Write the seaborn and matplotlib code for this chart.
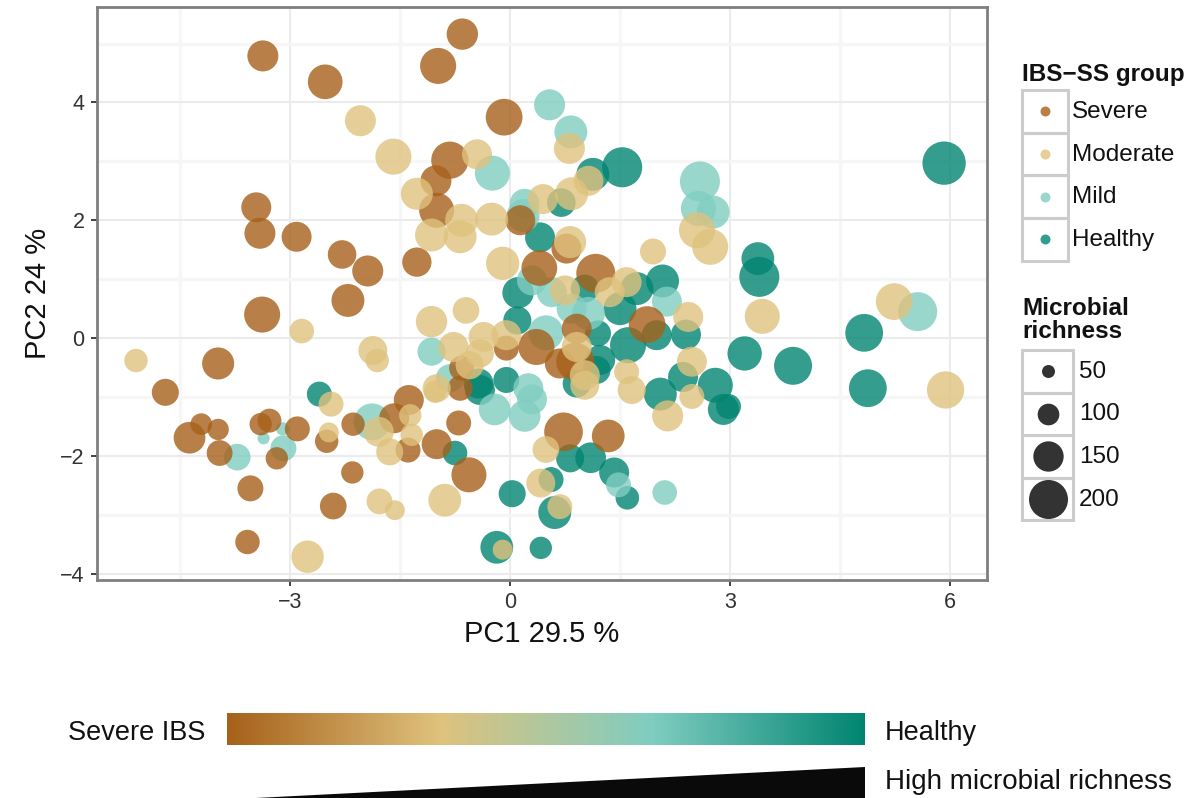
import numpy as np
import pandas as pd
import matplotlib
matplotlib.use("Agg")
import matplotlib.pyplot as plt
from matplotlib.colors import LinearSegmentedColormap
from matplotlib.patches import Rectangle, Polygon
import seaborn as sns

# ---------------------------------------------------------------- data
groups = ["Severe", "Moderate", "Mild", "Healthy"]
group_colors = ["#A6611A", "#DFC27D", "#80CDC1", "#018571"]
richness_breaks = [50, 100, 150, 200]
x_ticks = [-3, 0, 3, 6]
y_ticks = [-4, -2, 0, 2, 4]

severe_pc1 = [-3.37, -2.52, -0.65, -0.98, -0.08, -0.82, -1.01, -1.00, -3.46, -3.41,
              -2.91, -2.29, -1.94, -2.21, -3.38, -3.98, -4.70, -1.27, 0.14, 0.77,
              0.40, 1.17, 1.87, 0.36, 0.91, 0.89, 0.68, -0.05, -0.66, -1.38,
              -1.58, -1.39, -0.70, -1.00, -0.56, 0.73, 1.34, -4.21, -4.37, -3.98,
              -3.96, -3.40, -3.28, -3.18, -2.90, -2.50, -3.54, -2.15, -2.41, -3.58,
              -2.14, -0.68]
severe_pc2 = [4.79, 4.35, 5.16, 4.62, 3.75, 3.02, 2.67, 2.17, 2.22, 1.78,
              1.72, 1.42, 1.14, 0.64, 0.40, -0.43, -0.92, 1.29, 2.00, 1.52,
              1.19, 1.10, 0.23, -0.15, 0.16, -0.40, -0.43, -0.17, -0.51, -1.05,
              -1.36, -1.90, -1.44, -1.80, -2.32, -1.59, -1.66, -1.46, -1.69, -1.55,
              -1.95, -1.46, -1.40, -2.04, -1.54, -1.75, -2.55, -2.28, -2.85, -3.46,
              -1.46, -0.85]
severe_rich = [154, 175, 156, 183, 187, 190, 154, 177, 148, 154,
               148, 140, 154, 165, 183, 160, 131, 144, 148, 148,
               181, 200, 187, 183, 148, 194, 148, 119, 119, 148,
               148, 119, 119, 148, 177, 198, 164, 100, 158, 98,
               124, 104, 113, 104, 119, 110, 125, 104, 129, 116,
               110, 120]

moderate_pc1 = [-2.04, -1.59, -0.45, 0.81, -1.27, 1.07, 0.84, 0.45, -1.07, -0.68,
                -0.66, -0.25, -0.10, 0.82, 0.75, 1.95, 1.59, 1.36, 2.73, 2.55,
                2.43, 3.44, 5.24, 2.48, 5.94, 2.48, 2.15, 1.66, 1.02, 1.59,
                0.91, 1.02, -2.84, -5.10, -1.87, -1.81, -1.07, -0.60, -0.77, -0.36,
                -0.05, -0.41, -0.55, -1.00, -2.44, -2.47, -1.79, -1.64, -1.78, -1.57,
                -2.76, -1.02, -1.36, -1.34, -0.89, 0.42, 0.68, -0.10, 0.49]
moderate_pc2 = [3.69, 3.08, 3.12, 3.22, 2.45, 2.67, 2.45, 2.36, 1.75, 1.72,
                2.00, 2.02, 1.27, 1.63, 0.81, 1.47, 0.95, 0.78, 1.55, 1.83,
                0.36, 0.37, 0.62, -0.40, -0.88, -0.99, -1.32, -0.88, -0.80, -0.57,
                -0.15, -0.63, 0.12, -0.38, -0.21, -0.38, 0.28, 0.47, -0.15, 0.02,
                0.05, -0.26, -0.46, -0.85, -1.12, -1.60, -1.59, -1.93, -2.77, -2.92,
                -3.71, -0.91, -1.31, -1.64, -2.75, -2.46, -2.86, -3.59, -1.89]
moderate_rich = [154, 183, 148, 154, 160, 148, 165, 148, 165, 165,
                 165, 165, 167, 160, 148, 125, 148, 148, 183, 183,
                 148, 177, 187, 148, 190, 119, 154, 137, 142, 119,
                 148, 148, 117, 110, 142, 110, 156, 129, 148, 148,
                 148, 137, 137, 137, 119, 90, 148, 131, 124, 90,
                 162, 104, 104, 104, 164, 142, 119, 90, 129]

mild_pc1 = [0.54, 0.83, -0.24, 0.20, 0.18, 2.59, 2.77, 2.57, 5.56, 0.30,
            0.57, 1.07, 0.84, 0.49, 2.14, -1.07, -0.82, 0.25, -0.21, 0.20,
            0.30, 1.48, 2.11, -3.72, -3.36, -3.10, -3.09, -1.88]
mild_pc2 = [3.96, 3.50, 2.80, 2.28, 2.08, 2.66, 2.14, 2.20, 0.45, 0.98,
            0.78, 0.42, 0.50, 0.09, 0.62, -0.23, -0.68, -0.85, -1.21, -1.32,
            -1.04, -2.49, -2.62, -2.02, -1.70, -1.54, -1.87, -1.42]
mild_rich = [154, 165, 177, 148, 165, 206, 165, 177, 200, 148,
             148, 165, 148, 177, 148, 137, 137, 148, 158, 158,
             148, 119, 117, 129, 45, 52, 125, 187]

healthy_pc1 = [5.92, 1.13, 1.53, 0.70, 0.41, 3.38, 3.40, 0.11, 1.02, 1.73,
               2.08, 1.50, 1.20, 0.10, 1.61, 2.00, 2.40, 3.20, 3.86, 4.83,
               4.88, 2.80, 2.91, 2.98, 2.36, 2.05, 1.23, 1.18, 0.91, -0.43,
               -0.05, -0.41, -2.60, -0.75, 0.82, 1.10, 1.42, 1.60, 0.03, 0.56,
               0.61, -0.18, 0.42]
healthy_pc2 = [2.97, 2.78, 2.90, 2.30, 1.71, 1.35, 1.04, 0.77, 0.84, 0.84,
               0.97, 0.50, 0.08, 0.30, -0.12, 0.05, 0.06, -0.26, -0.47, 0.09,
               -0.85, -0.80, -1.21, -1.16, -0.66, -0.95, -0.37, -0.54, -0.77, -0.77,
               -0.71, -0.88, -0.95, -1.95, -2.04, -2.03, -2.28, -2.71, -2.64, -2.40,
               -2.96, -3.55, -3.56]
healthy_rich = [225, 165, 206, 140, 148, 164, 206, 156, 137, 165,
                165, 165, 125, 137, 183, 148, 148, 173, 194, 193,
                193, 177, 154, 119, 148, 165, 148, 137, 137, 148,
                125, 148, 119, 117, 137, 152, 148, 111, 131, 119,
                165, 164, 104]

# ---------------------------------------------------------------- frame
frames = []
for name, pc1, pc2, rich in [
    ("Healthy", healthy_pc1, healthy_pc2, healthy_rich),
    ("Mild", mild_pc1, mild_pc2, mild_rich),
    ("Severe", severe_pc1, severe_pc2, severe_rich),
    ("Moderate", moderate_pc1, moderate_pc2, moderate_rich),
]:
    frames.append(pd.DataFrame({"PC1": pc1, "PC2": pc2, "richness": rich, "group": name}))
df = pd.concat(frames, ignore_index=True)

DPI = 100
W, H = 1197, 798


def marker_area(v):
    """Marker area (pt^2) with the diameter growing linearly with richness."""
    d_px = 13 + (v - 50) * 26.0 / 150.0
    return (d_px * 72.0 / DPI) ** 2


size_lookup = {v: marker_area(v) for v in sorted(df["richness"].unique())}
palette = dict(zip(groups, group_colors))

sns.set_style("white")
plt.rcParams["font.family"] = ["Liberation Sans", "DejaVu Sans"]
plt.rcParams["axes.unicode_minus"] = True

fig = plt.figure(figsize=(W / DPI, H / DPI), dpi=DPI)
ax = fig.add_axes([97 / W, 1 - 580 / H, 890 / W, 573 / H])

sns.scatterplot(data=df, x="PC1", y="PC2", hue="group", hue_order=groups,
                palette=palette, size="richness", sizes=size_lookup,
                alpha=0.8, linewidth=0, legend=False, ax=ax, zorder=3)

# axes range in data units
ax.set_xlim(-5.632, 6.505)
ax.set_ylim(-4.105, 5.62)
ax.set_xticks(x_ticks)
ax.set_yticks(y_ticks)
ax.set_xticks([-4.5, -1.5, 1.5, 4.5], minor=True)
ax.set_yticks([-3, -1, 1, 3, 5], minor=True)
ax.grid(True, which="major", color="#EBEBEB", lw=1.5, zorder=0)
ax.grid(True, which="minor", color="#F6F6F6", lw=2.4, zorder=0)
ax.set_axisbelow(True)
for sp in ax.spines.values():
    sp.set_color("#7F7F7F")
    sp.set_linewidth(2.0)
ax.tick_params(axis="both", which="major", direction="out", length=4, width=1.3,
               color="#333333", labelsize=15.5, labelcolor="#333333", pad=5,
               bottom=True, left=True)
ax.tick_params(axis="both", which="minor", length=0)
ax.set_xlabel("PC1 29.5 %", fontsize=21, color="#111111", labelpad=5)
ax.set_ylabel("PC2 24 %", fontsize=21, color="#111111", labelpad=6)

# ---------------------------------------------------------------- overlay (pixel coords)
ov = fig.add_axes([0, 0, 1, 1], zorder=5)
ov.set_xlim(0, W)
ov.set_ylim(H, 0)
ov.axis("off")
ov.patch.set_alpha(0)

key_edge = "#CCCCCC"

# colour legend
ov.text(1022, 74, "IBS\u2212SS group", fontsize=17.5, fontweight="bold",
        ha="left", va="center", color="#111111")
key_tops = [90, 132.7, 175.3, 218]
for top, name, col in zip(key_tops, groups, group_colors):
    ov.add_patch(Rectangle((1022, top), 46, 42.6, fill=False, edgecolor=key_edge, lw=2.2))
    ov.scatter([1045], [top + 21.3], s=(10 * 72 / DPI) ** 2, color=col, alpha=0.8,
               linewidths=0)
    ov.text(1072, top + 22, name, fontsize=17.5, ha="left", va="center", color="#111111")

# size legend
ov.text(1022, 320, "Microbial\nrichness", fontsize=17.5, fontweight="bold",
        ha="left", va="center", color="#111111", linespacing=1.0)
size_tops = [350, 392.5, 435, 477.5]
for top, v in zip(size_tops, richness_breaks):
    ov.add_patch(Rectangle((1022, top), 51, 42.5, fill=False, edgecolor=key_edge, lw=2.2))
    ov.scatter([1047.5], [top + 21.2], s=marker_area(v), color="#333333", linewidths=0)
    ov.text(1079, top + 22, str(v), fontsize=17.5, ha="left", va="center", color="#111111")

# severity gradient bar
cmap = LinearSegmentedColormap.from_list("severity", group_colors)
grad = np.linspace(0, 1, 512)[None, :]
ov.imshow(grad, extent=[227, 865, 745, 713], aspect="auto", cmap=cmap, zorder=2)
ov.text(205, 733, "Severe IBS", fontsize=19.5, ha="right", va="center", color="#111111")
ov.text(885, 733, "Healthy", fontsize=19.5, ha="left", va="center", color="#111111")

# richness wedge
ov.add_patch(Polygon([(236, 799), (865, 767), (865, 799)], closed=True,
                     facecolor="#0A0A0A", edgecolor="none"))
ov.text(885, 782, "High microbial richness", fontsize=20, ha="left", va="center",
        color="#111111")

ov.set_xlim(0, W)
ov.set_ylim(H, 0)

fig.savefig("out.png", dpi=DPI)
